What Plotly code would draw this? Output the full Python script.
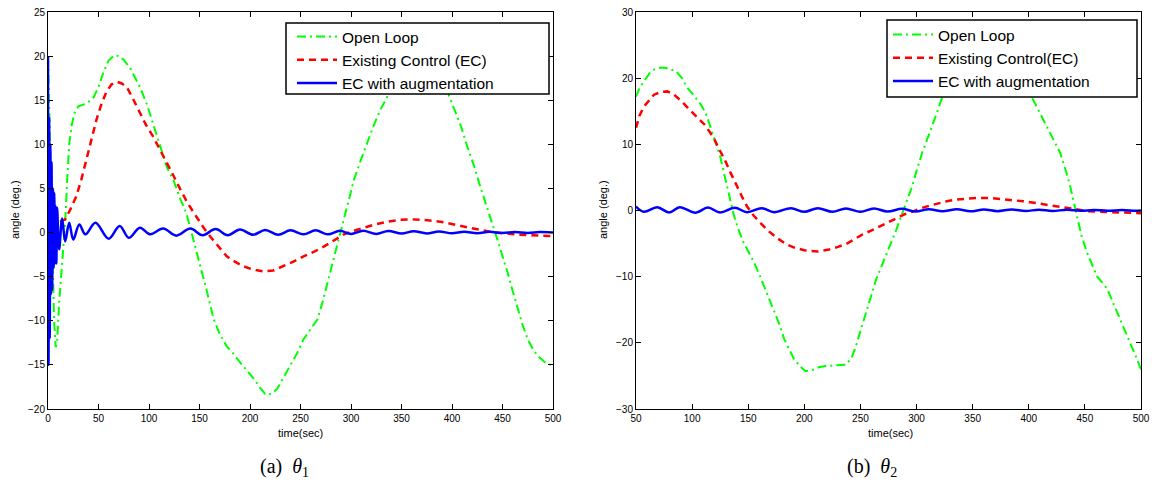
import plotly.graph_objects as go

W, H = 1156, 485

# ---------------- data: panel (a) theta_1 ----------------
a_open_t = [0, 2, 4, 6, 7.6, 9, 11, 14, 17, 19, 21, 23.5, 26, 30, 35, 40, 45, 50, 55, 60, 66, 70, 75,
            82, 91, 98, 104, 111, 118, 124, 131, 137, 144, 151, 157, 164, 170, 177, 184, 190, 197, 204,
            210, 215, 218, 222, 227, 233, 240, 247, 253, 260, 267, 272, 277, 282, 287, 292, 297, 303,
            310, 316, 322, 329, 335, 339, 348, 358, 366, 374, 384, 392, 396, 402, 409, 415, 422, 428,
            435, 440, 445, 450, 455, 460, 465, 470, 475, 480, 485, 492, 500]
a_open_v = [20, 11, -1, -10, -13, -12.5, -8, -3.4, 1.1, 6, 10, 12.2, 13.5, 14.3, 14.5, 14.8, 15.3, 16.5,
            18.2, 19.5, 20.1, 20, 19.6, 18.5, 16.5, 14.5, 12.3, 9.8, 7.3, 6.0, 3.8, 2.2, -0.8, -4,
            -6.5, -9.8, -11.5, -12.9, -13.8, -14.7, -15.6, -16.6, -17.6, -18.3, -18.4, -18.2, -17.7,
            -16.5, -15.1, -13.6, -12.1, -11, -9.8, -7.8, -5.6, -3.3, -1.1, 1.0, 3.2, 6.0, 8.3, 10.2,
            12.0, 13.9, 15.2, 16, 18, 19.6, 20.2, 20, 18.8, 17, 15.8, 14.2, 12, 9.8, 7.5, 5.2, 2.8,
            1.0, -0.8, -2.7, -4.5, -6.6, -8.7, -10.5, -12.1, -13.2, -14, -14.7, -15.1]

a_ec_t = [12, 17, 22, 28, 33, 38, 43, 48, 53, 58, 63, 68, 73, 78, 84, 91, 97, 104, 111, 118, 124, 131,
          137, 144, 150, 155, 161, 169, 177, 185, 193, 203, 213, 223, 233, 243, 253, 263, 273, 283,
          293, 303, 313, 323, 335, 348, 360, 376, 390, 402, 415, 428, 440, 450, 462, 475, 488, 500]
a_ec_v = [1.2, 1.5, 2.6, 4.1, 6.0, 8.3, 10.6, 12.8, 14.6, 16.0, 16.8, 17.1, 16.9, 16.5, 15.2, 13.5,
          12.2, 10.9, 9.4, 7.9, 6.5, 4.9, 3.6, 2.3, 1.2, 0.4, -0.5, -1.6, -2.7, -3.3, -3.8, -4.2, -4.4,
          -4.3, -3.8, -3.3, -2.7, -2.2, -1.6, -0.9, -0.2, 0.2, 0.55, 0.9, 1.2, 1.45, 1.5, 1.4, 1.2,
          0.9, 0.6, 0.3, 0.05, -0.1, -0.2, -0.3, -0.35, -0.4]

a_aug_t = [0, 0.5, 1.1, 1.7, 2.3, 2.9, 3.5, 4.1, 4.8, 5.5, 6.2, 6.9, 7.6, 8.3, 9, 11, 14, 17, 21, 25,
           31, 37, 47, 60, 71, 80, 91, 101, 114, 127, 141, 153, 166, 178, 190, 203, 215, 228, 240,
           253, 265, 277, 289, 300, 312, 325, 337, 350, 362, 375, 387, 400, 412, 425, 437, 450, 462,
           475, 487, 500]
a_aug_v = [20, -15, 13, -12, 10, -7, 8, -6.5, 5, -4, 4.5, -3.5, 3, -3.5, 2.8, -1.9, 1.6, -1.0, 1.1,
           -0.8, 0.9, -0.2, 1.1, -0.7, 0.75, -0.6, 0.55, -0.2, 0.45, -0.35, 0.45, -0.3, 0.4, -0.3,
           0.35, -0.25, 0.3, -0.25, 0.25, -0.2, 0.25, -0.2, 0.2, -0.15, 0.2, -0.15, 0.18, -0.12,
           0.15, -0.1, 0.12, -0.08, 0.1, -0.07, 0.08, -0.05, 0.06, -0.04, 0.05, 0.0]

# ---------------- data: panel (b) theta_2 ----------------
b_open_t = [50, 53, 57, 62, 66, 72, 78, 86, 91, 95, 101, 107, 112, 116, 121, 125, 128, 131, 134, 137.5,
            142, 146, 151, 155, 160, 164, 169, 173, 178, 182, 187, 191, 196, 201, 207, 213, 219, 225,
            231, 237, 242, 246, 250, 255, 260, 264, 270, 276, 282, 287.5, 292, 296, 300, 305, 310,
            314, 318, 322, 330, 340, 350, 360, 370, 380, 390, 397, 404, 410, 416, 422, 428, 433, 437,
            443, 447, 452, 457, 461, 466, 470, 476, 481, 486, 490, 495, 500]
b_open_v = [17.2, 18.5, 19.5, 20.7, 21.3, 21.6, 21.5, 21.0, 20.0, 18.7, 17.5, 16.2, 14.8, 12.7, 10.4,
            8.2, 5.9, 3.6, 1.4, -0.9, -3.2, -4.9, -6.5, -7.8, -9.7, -11.4, -13.3, -15, -17.3, -19.4,
            -21.1, -22.5, -23.5, -24.3, -24.1, -23.7, -23.5, -23.4, -23.4, -23.3, -22.3, -20.5, -18.2,
            -15.4, -12.6, -10.4, -7.9, -5.4, -2.9, -0.3, 1.8, 3.6, 6.0, 8.7, 11, 12.7, 14.7, 16.7,
            19.5, 21.6, 22.6, 22.8, 22.4, 21.2, 19.5, 18.3, 16.7, 14.7, 12.7, 10.7, 8.7, 6, 3.6, -0.9,
            -3.8, -6.4, -8.5, -10, -11, -11.9, -14.3, -16.4, -18.3, -19.9, -21.9, -24]

b_ec_t = [50, 53, 57, 62, 66, 72, 78, 84, 90, 98, 104, 111, 116, 120, 124, 129, 134, 140, 145, 149,
          155, 161, 168, 176, 184, 191, 200, 212, 222, 230, 238, 245, 252, 260, 267, 275, 282, 289,
          296, 303, 311, 319, 327, 335, 345, 355, 365, 375, 383, 395, 407, 418, 428, 436, 443, 453,
          463, 472, 481, 490, 500]
b_ec_v = [12.5, 14.3, 15.7, 16.8, 17.5, 17.9, 18.0, 17.5, 16.6, 15.2, 14.2, 13.0, 11.8, 10.7, 9.3,
          7.7, 5.8, 3.6, 1.9, 0.6, -0.8, -1.9, -3.1, -4.2, -5.1, -5.6, -6.0, -6.2, -5.9, -5.5, -5.0,
          -4.3, -3.6, -3.0, -2.4, -1.7, -1.1, -0.6, -0.2, 0.3, 0.7, 1.1, 1.4, 1.65, 1.8, 1.9, 1.9,
          1.75, 1.6, 1.4, 1.1, 0.8, 0.5, 0.3, 0.1, -0.1, -0.2, -0.25, -0.3, -0.35, -0.4]

b_aug_t = [50, 57, 69, 79.5, 89, 103, 114, 125, 138, 149, 162, 173, 188, 200, 212, 225, 237, 250, 262,
           274, 287, 299, 311, 323, 336, 348, 360, 372, 385, 397, 409, 421, 434, 446, 458, 470, 483,
           495, 500]
b_aug_v = [0.6, -0.2, 0.5, -0.3, 0.5, -0.35, 0.45, -0.3, 0.4, -0.25, 0.35, -0.25, 0.35, -0.2, 0.35,
           -0.2, 0.3, -0.2, 0.3, -0.15, 0.25, -0.15, 0.2, -0.12, 0.2, -0.12, 0.15, -0.1, 0.15, -0.08,
           0.12, -0.06, 0.1, -0.05, 0.08, -0.04, 0.06, -0.03, 0.0]

names_a = ["Open Loop", "Existing Control (EC)", "EC with augmentation"]
names_b = ["Open Loop", "Existing Control(EC)", "EC with augmentation"]

GREEN, RED, BLUE = "#00FF00", "#FF0000", "#0000FF"
SANS = "Liberation Sans, Arial, Helvetica, sans-serif"
SERIF = "Liberation Serif, Times New Roman, serif"


def px(x):
    return x / W


def py(y):
    return 1 - y / H


fig = go.Figure()

specs = [
    ("x", "y", "legend", names_a, (a_open_t, a_open_v), (a_ec_t, a_ec_v), (a_aug_t, a_aug_v)),
    ("x2", "y2", "legend2", names_b, (b_open_t, b_open_v), (b_ec_t, b_ec_v), (b_aug_t, b_aug_v)),
]
for xa, ya, leg, names, op, ec, aug in specs:
    fig.add_trace(go.Scatter(x=op[0], y=op[1], mode="lines", name=names[0], xaxis=xa, yaxis=ya,
                             legend=leg, line=dict(color=GREEN, width=2, dash="9px,4px,2px,4px")))
    fig.add_trace(go.Scatter(x=ec[0], y=ec[1], mode="lines", name=names[1], xaxis=xa, yaxis=ya,
                             legend=leg, line=dict(color=RED, width=2.5, dash="7px,5px")))
    fig.add_trace(go.Scatter(x=aug[0], y=aug[1], mode="lines", name=names[2], xaxis=xa, yaxis=ya,
                             legend=leg, line=dict(color=BLUE, width=2.5, shape="spline", smoothing=1)))

axis_common = dict(showline=True, linecolor="black", linewidth=1, mirror="allticks",
                   ticks="inside", ticklen=5, tickwidth=1, tickcolor="black",
                   showgrid=False, zeroline=False, automargin=False,
                   tickfont=dict(family=SANS, size=10, color="black"))

yd = [py(409), py(12)]
fig.update_layout(
    width=W, height=H, autosize=False,
    margin=dict(l=0, r=0, t=0, b=0),
    paper_bgcolor="white", plot_bgcolor="white",
    xaxis=dict(domain=[px(48), px(553)], range=[0, 500], tick0=0, dtick=50, anchor="y", **axis_common),
    yaxis=dict(domain=yd, range=[-20, 25], tick0=-20, dtick=5, anchor="x", **axis_common),
    xaxis2=dict(domain=[px(636), px(1141)], range=[50, 500], tick0=50, dtick=50, anchor="y2", **axis_common),
    yaxis2=dict(domain=yd, range=[-30, 30], tick0=-30, dtick=10, anchor="x2", **axis_common),
    legend=dict(x=px(292), y=py(20), xanchor="left", yanchor="top", bgcolor="rgba(0,0,0,0)",
                borderwidth=0, font=dict(family=SANS, size=15.5, color="black"),
                tracegroupgap=0, itemwidth=40),
    legend2=dict(x=px(888), y=py(18), xanchor="left", yanchor="top", bgcolor="rgba(0,0,0,0)",
                 borderwidth=0, font=dict(family=SANS, size=15.5, color="black"),
                 tracegroupgap=0, itemwidth=40),
    showlegend=True,
)

# legend boxes (white, bordered), drawn above the traces and below the legend text
for x0, y0, x1, y1 in [(286, 23, 549, 94), (887, 20, 1137, 97)]:
    fig.add_shape(type="rect", xref="paper", yref="paper", x0=px(x0), x1=px(x1), y0=py(y1), y1=py(y0),
                  fillcolor="white", line=dict(color="black", width=1.5), layer="above")

annots = [
    dict(text="angle (deg.)", x=px(15), y=py(210), textangle=-90, font=dict(family=SANS, size=11)),
    dict(text="angle (deg.)", x=px(603), y=py(210), textangle=-90, font=dict(family=SANS, size=11)),
    dict(text="time(sec)", x=px(300), y=py(433), font=dict(family=SANS, size=11)),
    dict(text="time(sec)", x=px(890), y=py(433), font=dict(family=SANS, size=11)),
    dict(text="(a)  <i>θ</i><sub>1</sub>", x=px(284), y=py(467), font=dict(family=SERIF, size=20)),
    dict(text="(b)  <i>θ</i><sub>2</sub>", x=px(872), y=py(467), font=dict(family=SERIF, size=20)),
]
for a in annots:
    a["font"]["color"] = "black"
    fig.add_annotation(xref="paper", yref="paper", showarrow=False, xanchor="center", yanchor="middle", **a)

fig.write_html("out.html")
